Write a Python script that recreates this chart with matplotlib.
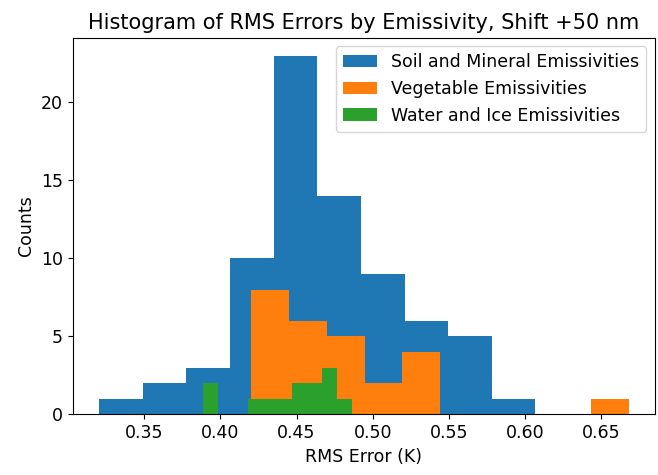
import numpy as np
import matplotlib
matplotlib.use('Agg')
import matplotlib.pyplot as plt

# histogram counts, 10 bins per group
soil_range = (0.3205, 0.6068)
soil_counts = [1, 2, 3, 10, 23, 14, 9, 6, 5, 1]

veg_range = (0.4204, 0.6679)
veg_counts = [8, 6, 5, 2, 4, 0, 0, 0, 0, 1]

water_range = (0.3887, 0.4861)
water_counts = [2, 0, 0, 1, 1, 1, 2, 2, 3, 1]

labels = ['Soil and Mineral Emissivities', 'Vegetable Emissivities',
          'Water and Ice Emissivities']
groups = [(soil_range, soil_counts), (veg_range, veg_counts),
          (water_range, water_counts)]

plt.rcParams['font.size'] = 12.5
fig = plt.figure(figsize=(6.58, 4.75), dpi=100)
ax = fig.add_axes([0.1105, 0.1278, 0.885, 0.793])
for (rng, counts), lab in zip(groups, labels):
    edges = np.linspace(rng[0], rng[1], len(counts) + 1)
    ax.hist(edges[:-1], bins=edges, weights=counts, label=lab)

ax.set_title('Histogram of RMS Errors by Emissivity, Shift +50 nm')
ax.set_xlabel('RMS Error (K)')
ax.set_ylabel('Counts')
ax.legend(loc='upper right')
fig.savefig('out.png', dpi=100)
